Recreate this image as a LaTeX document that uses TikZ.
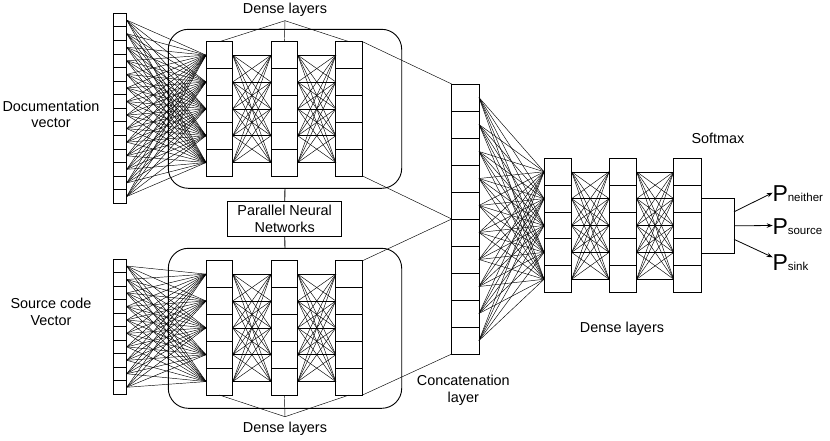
\documentclass[tikz,border=0pt]{standalone}
\usepackage{fontspec}
\setmainfont{Liberation Sans}
\usetikzlibrary{arrows.meta,calc}
\begin{document}
\begin{tikzpicture}[x=1pt,y=-1pt,
  cell/.style={draw, line width=0.9pt, inner sep=0pt, outer sep=0pt},
  conn/.style={line width=0.45pt},
  grp/.style={draw, line width=0.9pt, rounded corners=20pt, inner sep=0pt, outer sep=0pt},
  lbl/.style={font=\fontsize{14.4}{16.7}\selectfont, align=center, inner sep=0pt},
  outarrow/.style={line width=0.8pt, -{Stealth[length=6pt,width=4.5pt]}},
  plab/.style={anchor=base west, inner sep=0pt}]
\useasboundingbox (0,0) rectangle (830,440);

% group outlines
\node[grp, minimum width=233.4pt, minimum height=159pt] (tg) at (285,108.8) {};
\node[grp, minimum width=233.4pt, minimum height=160pt] (bg) at (285,328.3) {};

% input vectors
\foreach \i in {1,...,14}
  \node[cell, minimum width=13.4pt, minimum height=13.57pt] (ti\i) at (120,{13.3+13.57*(\i-0.5)}) {};
\foreach \i in {1,...,10}
  \node[cell, minimum width=13.4pt, minimum height=13.47pt] (bi\i) at (120,{259.3+13.47*(\i-0.5)}) {};

% dense columns (left groups)
\foreach \c/\x in {1/219.4, 2/284.4, 3/349.2}
  \foreach \r in {1,...,5} {
    \node[cell, minimum width=26.7pt, minimum height=26.86pt] (td\c-\r) at (\x,{41.7+26.86*(\r-0.5)}) {};
    \node[cell, minimum width=26.7pt, minimum height=26.86pt] (bd\c-\r) at (\x,{260.7+26.86*(\r-0.5)}) {};
  }

% concatenation layer
\foreach \i in {1,...,10}
  \node[cell, minimum width=27.3pt, minimum height=27pt] (cc\i) at (465.35,{84+27*(\i-0.5)}) {};

% dense columns (right)
\foreach \c/\x in {1/557.85, 2/622.85, 3/687.5}
  \foreach \r in {1,...,5}
    \node[cell, minimum width=27.5pt, minimum height=26.88pt] (rd\c-\r) at (\x,{158.3+26.88*(\r-0.5)}) {};

% softmax box
\node[cell, minimum width=33pt, minimum height=55pt] (sm) at (717.5,225.8) {};

% connections input -> dense
\foreach \i in {1,...,14}
  \foreach \j in {1,...,5}
    \draw[conn] (ti\i.east) -- (td1-\j.west);
\foreach \i in {1,...,10}
  \foreach \j in {1,...,5}
    \draw[conn] (bi\i.east) -- (bd1-\j.west);

% dense -> dense
\foreach \a/\b in {1/2, 2/3}
  \foreach \i in {1,...,5}
    \foreach \j in {1,...,5} {
      \draw[conn] (td\a-\i.east) -- (td\b-\j.west);
      \draw[conn] (bd\a-\i.east) -- (bd\b-\j.west);
      \draw[conn] (rd\a-\i.east) -- (rd\b-\j.west);
    }

% concat -> dense right
\foreach \i in {1,...,10}
  \foreach \j in {1,...,5}
    \draw[conn] (cc\i.east) -- (rd1-\j.west);

% groups -> concat
\draw[conn] (td3-1.north east) -- (cc1.north west);
\draw[conn] (td3-5.south east) -- (cc5.south west);
\draw[conn] (bd3-1.north east) -- (cc6.north west);
\draw[conn] (bd3-5.south east) -- (cc10.south west);

% parallel neural networks
\node[draw, line width=0.9pt, minimum width=114pt, minimum height=34.3pt, lbl] (pnn) at (284.7,218.85) {Parallel Neural\\Networks};
\draw[line width=0.9pt] (tg.south) -- (pnn.north);
\draw[line width=0.9pt] (pnn.south) -- (bg.north);

% dense labels
\node[lbl] (dtl) at (285,9.3) {Dense layers};
\coordinate (dta) at (285,20.7);
\foreach \c in {1,2,3} \draw[conn] (dta) -- (td\c-1.north);
\node[lbl] (dbl) at (285,429) {Dense layers};
\coordinate (dba) at (285,416.7);
\foreach \c in {1,2,3} \draw[conn] (dba) -- (bd\c-5.south);

% text labels
\node[lbl] (docl) at (51,114.4) {Documentation\\vector};
\node[lbl] (srcl) at (51,311.7) {Source code\\Vector};
\node[lbl] (ccl) at (463.3,390.5) {Concatenation\\layer};
\node[lbl] (drl) at (622,328.3) {Dense layers};
\node[lbl] (sml) at (718,138) {Softmax};

% outputs
\coordinate (o1) at (772.7,192.7);
\coordinate (o2) at (772.7,225.5);
\coordinate (o3) at (772.7,257.3);
\draw[outarrow] ($(sm.east)+(0,-14)$) -- (o1);
\draw[outarrow] (sm.east) -- (o2);
\draw[outarrow] ($(sm.east)+(0,13.5)$) -- (o3);
\node[plab] (pn) at (772.3,201.7) {\fontsize{23}{23}\selectfont P\fontsize{11.5}{12}\selectfont neither};
\node[plab] (ps) at (772.3,234.3) {\fontsize{23}{23}\selectfont P\fontsize{11.5}{12}\selectfont source};
\node[plab] (pk) at (772.3,270) {\fontsize{23}{23}\selectfont P\fontsize{11.5}{12}\selectfont sink};
\end{tikzpicture}
\end{document}
